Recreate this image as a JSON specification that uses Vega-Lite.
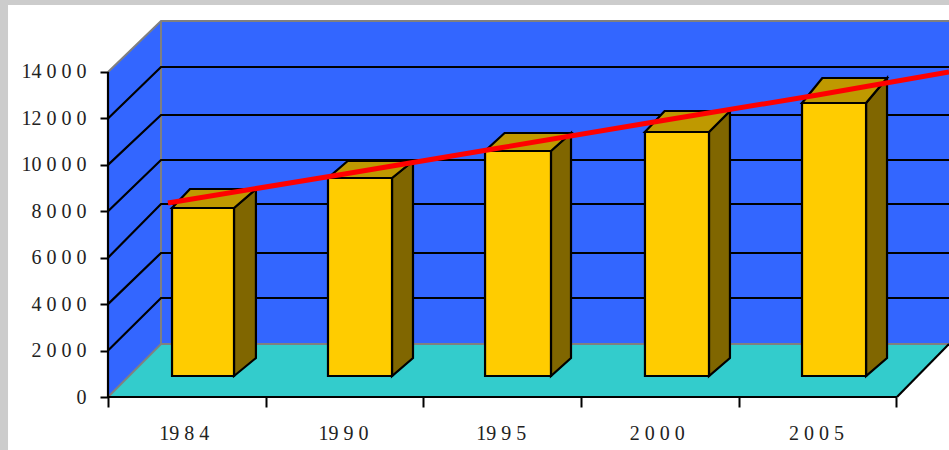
{
"$schema":"https://vega.github.io/schema/vega-lite/v6.json",
"width":949,"height":450,"padding":0,"autosize":{"type":"none"},
"background":"#CCCCCC",
"config":{"view":{"stroke":null},"font":"Liberation Serif"},
"datasets":{
"sheet":[{"x":-0.634,"x2":5.333,"y":16886,"y2":-2283}],
"back":[{"x":0.336,"x2":5.333,"y":16197,"y2":2283}],
"leftwall":[{"x":0,"y":14000,"y2":0},{"x":0.336,"y":16197,"y2":2283}],
"floor":[{"y":0,"x":0,"x2":5.003},{"y":2283,"x":0.336,"x2":5.333}],
"edges":[
{"s":"a","x":0,"y":14000},{"s":"a","x":0.336,"y":16197},{"s":"a","x":5.333,"y":16197},
{"s":"b","x":0.336,"y":16197},{"s":"b","x":0.336,"y":2283},
{"s":"c","x":0,"y":0},{"s":"c","x":0.336,"y":2283},{"s":"c","x":5.333,"y":2283}],
"grid":[
{"s":2000,"x":0,"y":2000},{"s":2000,"x":0.336,"y":4265},{"s":2000,"x":5.333,"y":4265},
{"s":4000,"x":0,"y":4000},{"s":4000,"x":0.336,"y":6203},{"s":4000,"x":5.333,"y":6203},
{"s":6000,"x":0,"y":6000},{"s":6000,"x":0.336,"y":8314},{"s":6000,"x":5.333,"y":8314},
{"s":8000,"x":0,"y":8000},{"s":8000,"x":0.336,"y":10209},{"s":8000,"x":5.333,"y":10209},
{"s":10000,"x":0,"y":10000},{"s":10000,"x":0.336,"y":12148},{"s":10000,"x":5.333,"y":12148},
{"s":12000,"x":0,"y":12000},{"s":12000,"x":0.336,"y":14216},{"s":12000,"x":5.333,"y":14216}],
"frame":[
{"s":"ax","x":0,"y":0},{"s":"ax","x":5.003,"y":0},
{"s":"ay","x":0,"y":0},{"s":"ay","x":0,"y":14000},
{"s":"fr","x":5.003,"y":0},{"s":"fr","x":5.333,"y":2283}],
"bars":[
{"year":"1984","x":0.406,"x2":0.799,"y":8142,"y2":905},
{"year":"1990","x":1.395,"x2":1.801,"y":9434,"y2":905},
{"year":"1995","x":2.391,"x2":2.809,"y":10597,"y2":905},
{"year":"2000","x":3.405,"x2":3.811,"y":11415,"y2":905},
{"year":"2005","x":4.401,"x2":4.807,"y":12665,"y2":905}],
"sides":[
{"year":"1984","x":0.799,"y":8142,"y2":905},{"year":"1984","x":0.938,"y":8960,"y2":1680},
{"year":"1990","x":1.801,"y":9434,"y2":905},{"year":"1990","x":1.934,"y":10166,"y2":1680},
{"year":"1995","x":2.809,"y":10597,"y2":905},{"year":"1995","x":2.936,"y":11372,"y2":1680},
{"year":"2000","x":3.811,"y":11415,"y2":905},{"year":"2000","x":3.944,"y":12320,"y2":1680},
{"year":"2005","x":4.807,"y":12665,"y2":905},{"year":"2005","x":4.940,"y":13742,"y2":1680}],
"tops":[
{"year":"1984","y":8142,"x":0.406,"x2":0.799},{"year":"1984","y":8960,"x":0.52,"x2":0.938},
{"year":"1990","y":9434,"x":1.395,"x2":1.801},{"year":"1990","y":10166,"x":1.52,"x2":1.934},
{"year":"1995","y":10597,"x":2.391,"x2":2.809},{"year":"1995","y":11372,"x":2.515,"x2":2.936},
{"year":"2000","y":11415,"x":3.405,"x2":3.811},{"year":"2000","y":12320,"x":3.53,"x2":3.944},
{"year":"2005","y":12665,"x":4.401,"x2":4.807},{"year":"2005","y":13742,"x":4.53,"x2":4.940}],
"trend":[
{"x":0.38,"y":8357},{"x":1.5,"y":9606},{"x":2.5,"y":10748},{"x":3.5,"y":11889},{"x":4.5,"y":13009},{"x":5.333,"y":14000}]
},
"encoding":{
"x":{"field":"x","type":"quantitative","scale":{"domain":[-0.6849,5.333],"range":[0,949],"nice":false,"zero":false},"axis":null},
"y":{"field":"y","type":"quantitative","scale":{"domain":[-2283,17101],"range":[450,0],"nice":false,"zero":false},"axis":null}
},
"resolve":{"axis":{"x":"independent","y":"independent"}},
"layer":[
{"data":{"name":"sheet"},"mark":{"type":"rect","fill":"#FFFFFF"},"encoding":{"x2":{"field":"x2"},"y2":{"field":"y2"}}},
{"data":{"name":"back"},"mark":{"type":"rect","fill":"#3366FF"},"encoding":{"x2":{"field":"x2"},"y2":{"field":"y2"}}},
{"data":{"name":"leftwall"},"mark":{"type":"area","fill":"#3366FF"},"encoding":{"y2":{"field":"y2"}}},
{"data":{"name":"floor"},"mark":{"type":"area","orient":"horizontal","fill":"#33CCCC"},"encoding":{"x2":{"field":"x2"}}},
{"data":{"name":"edges"},"mark":{"type":"line","stroke":"#808080","strokeWidth":2},"encoding":{"detail":{"field":"s"}}},
{"data":{"name":"grid"},"mark":{"type":"line","stroke":"#000000","strokeWidth":2.2},"encoding":{"detail":{"field":"s"}}},
{"data":{"name":"sides"},"mark":{"type":"area","fill":"#806600","stroke":"#000000","strokeWidth":2.2},"encoding":{"y2":{"field":"y2"},"detail":{"field":"year"}}},
{"data":{"name":"tops"},"mark":{"type":"area","orient":"horizontal","fill":"#BF9900","stroke":"#000000","strokeWidth":2.2},"encoding":{"x2":{"field":"x2"},"detail":{"field":"year"}}},
{"data":{"name":"bars"},"mark":{"type":"rect","fill":"#FFCC00","stroke":"#000000","strokeWidth":2.2},"encoding":{"x2":{"field":"x2"},"y2":{"field":"y2"}}},
{"data":{"name":"frame"},"mark":{"type":"line","stroke":"#000000","strokeWidth":2.2},
"encoding":{"detail":{"field":"s"},
"x":{"field":"x","type":"quantitative","axis":{"orient":"bottom","offset":-53,"values":[0,1,2,3,4,5],"labels":false,"domain":false,"grid":false,"title":null,"tickSize":10,"tickWidth":2,"tickColor":"#000000","zindex":1}},
"y":{"field":"y","type":"quantitative","axis":{"orient":"left","offset":-108,"values":[0,2000,4000,6000,8000,10000,12000,14000],"domain":false,"grid":false,"title":null,"tickSize":8,"tickWidth":2,"tickColor":"#000000","labelPadding":14,"labelFont":"Liberation Serif","labelFontSize":20,"labelColor":"#222222","zindex":1,
"labelExpr":"{'0':'0','2000':'2 0 0 0','4000':'4 0 0 0','6000':'6 0 0 0','8000':'8 0 0 0','10000':'10 0 0 0','12000':'12 0 0 0','14000':'14 0 0 0'}[datum.value]"}}}},
{"data":{"name":"trend"},"mark":{"type":"line","stroke":"#FF0000","strokeWidth":5},
"encoding":{
"x":{"field":"x","type":"quantitative","axis":{"orient":"bottom","offset":-53,"values":[0.48,1.49,2.49,3.48,4.49],"ticks":false,"domain":false,"grid":false,"title":null,"labelPadding":26,"labelFont":"Liberation Serif","labelFontSize":20,"labelColor":"#222222","labelFlush":false,"labelOverlap":false,"zindex":1,
"labelExpr":"{'0.48':'19 8 4','1.49':'19 9 0','2.49':'19 9 5','3.48':'2 0 0 0','4.49':'2 0 0 5'}[datum.value]"}}}}
]
}
